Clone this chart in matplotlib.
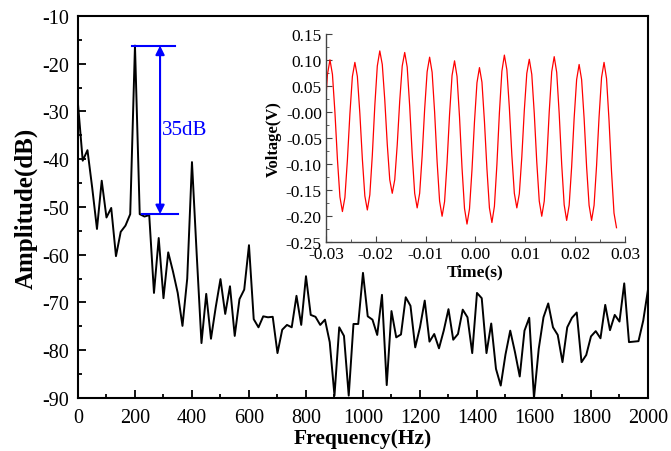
import numpy as np
import matplotlib
matplotlib.use("Agg")
import matplotlib.pyplot as plt

# spectrum, 121 bins from 0 to 2000 Hz
freq_max = 2000.0
amp_db = [
    -28.4, -40.3, -38.1, -46.0, -54.6, -44.5, -52.2, -50.2, -60.3, -55.2, -53.9, -51.5, -16.2,
    -51.5, -52.0, -51.7, -68.0, -56.5, -69.1, -59.5, -63.5, -68.0, -74.9, -65.0, -40.6,
    -60.0, -78.5, -68.2, -77.6, -71.0, -65.1, -72.4, -66.6, -77.0, -69.3, -67.3, -58.0,
    -73.5, -75.2, -72.9, -73.1, -73.0, -80.6, -75.7, -74.7, -75.2, -68.6, -74.7, -64.5,
    -72.6, -73.0, -74.7, -73.6, -78.3, -89.5, -75.2, -77.0, -89.5, -74.5, -74.5, -63.8,
    -72.9, -73.6, -76.8, -68.4, -87.3, -71.8, -77.3, -76.7, -68.9, -70.7, -79.4, -75.2,
    -69.6, -78.2, -76.6, -79.6, -75.9, -71.4, -77.8, -76.6, -71.5, -73.1, -80.6, -68.0,
    -69.1, -80.6, -74.4, -83.9, -87.4, -80.9, -75.9, -80.4, -85.5, -75.9, -73.2, -90.0,
    -79.7, -73.1, -70.2, -75.2, -76.8, -82.5, -75.2, -73.2, -72.1, -82.5, -81.0, -77.1,
    -76.0, -77.5, -70.5, -75.8, -72.6, -74.0, -66.0, -78.3, -78.2, -78.1, -73.8, -67.3,
]
freq = np.linspace(0, freq_max, len(amp_db))

# 35 dB marker
peak_db = -16.2
floor_db = -51.5
marker_freq = 288

# time signal for inset
t_start = -0.0302
t_step = 0.0005
voltage = [
    0.000, 0.072, 0.100,
    0.072, -0.001, -0.091, -0.163, -0.191,
    -0.164, -0.092, -0.004, 0.068, 0.095,
    0.068, -0.003, -0.090, -0.161, -0.188,
    -0.159, -0.083, 0.012, 0.088, 0.117,
    0.091, 0.023, -0.062, -0.130, -0.156,
    -0.130, -0.063, 0.021, 0.088, 0.114,
    0.086, 0.011, -0.081, -0.156, -0.184,
    -0.156, -0.084, 0.005, 0.077, 0.105,
    0.076, 0.000, -0.095, -0.171, -0.200,
    -0.172, -0.097, -0.005, 0.070, 0.098,
    0.068, -0.010, -0.107, -0.185, -0.215,
    -0.186, -0.111, -0.019, 0.056, 0.085,
    0.057, -0.018, -0.109, -0.184, -0.212,
    -0.181, -0.101, -0.002, 0.078, 0.109,
    0.081, 0.008, -0.083, -0.156, -0.184,
    -0.157, -0.086, 0.003, 0.074, 0.101,
    0.072, -0.003, -0.096, -0.171, -0.200,
    -0.171, -0.094, 0.000, 0.077, 0.106,
    0.076, -0.003, -0.100, -0.178, -0.208,
    -0.179, -0.105, -0.012, 0.062, 0.091,
    0.062, -0.012, -0.105, -0.179, -0.208,
    -0.179, -0.103, -0.010, 0.066, 0.095,
    0.064, -0.016, -0.114, -0.194, -0.222,
]
time = t_start + t_step * np.arange(len(voltage))

plt.rcParams['font.family'] = ['Liberation Serif', 'DejaVu Serif']
plt.rcParams['axes.unicode_minus'] = False

fig = plt.figure(figsize=(6.71, 4.52), dpi=100)
ax = fig.add_axes([0.1162, 0.1173, 0.8495, 0.8451])
ax.plot(freq, amp_db, color='black', lw=1.4)
ax.set_xlim(0, 2000)
ax.set_ylim(-90, -10)
ax.set_xticks(np.arange(0, 2001, 200))
ax.set_xticks(np.arange(100, 2000, 200), minor=True)
ax.set_yticks(np.arange(-90, -9, 10))
ax.set_yticks(np.arange(-85, -10, 10), minor=True)
ax.tick_params(which='both', direction='in', top=False, right=False, labelsize=14.5, width=1.3)
ax.tick_params(axis='x', pad=7)
ax.tick_params(axis='y', pad=6.5)
ax.tick_params(which='major', length=6)
ax.tick_params(which='minor', length=3)
for s in ax.spines.values():
    s.set_linewidth(1.5)
ax.set_xlabel('Frequency(Hz)', fontsize=15.5, fontweight='bold', labelpad=1)
ax.set_ylabel('Amplitude(dB)', fontsize=18, fontweight='bold', labelpad=3)

# annotation
ax.plot([188, 340], [peak_db, peak_db], color='blue', lw=1.5)
ax.plot([223, 352], [floor_db, floor_db], color='blue', lw=1.5)
ax.annotate('', xy=(marker_freq, peak_db), xytext=(marker_freq, floor_db),
            arrowprops=dict(arrowstyle='<|-|>', color='blue', lw=1.5,
                            mutation_scale=13, shrinkA=0, shrinkB=0))
ax.text(marker_freq + 8, -33.7, '35dB', color='blue', fontsize=15, va='center', ha='left')

# inset
ins = fig.add_axes([0.4858, 0.4617, 0.4456, 0.4615])
ins.plot(time, voltage, color='red', lw=0.9)
ins.set_xlim(-0.03, 0.03)
ins.set_ylim(-0.25, 0.15)
ins.set_xticks(np.arange(-0.03, 0.031, 0.01))
ins.set_xticks(np.arange(-0.025, 0.03, 0.01), minor=True)
ins.set_yticks(np.arange(-0.25, 0.151, 0.05))
ins.set_yticks(np.arange(-0.225, 0.15, 0.05), minor=True)
ins.set_xticklabels(['%.2f' % v for v in np.arange(-0.03, 0.031, 0.01)])
ins.set_yticklabels(['%.2f' % v for v in np.arange(-0.25, 0.151, 0.05)])
ins.spines['top'].set_visible(False)
ins.spines['right'].set_visible(False)
for s in ['left', 'bottom']:
    ins.spines[s].set_color('#444444')
    ins.spines[s].set_linewidth(1.0)
ins.tick_params(which='both', direction='in', labelsize=12.5, color='#444444')
ins.tick_params(axis='x', pad=2.5)
ins.tick_params(axis='y', pad=3)
ins.tick_params(which='major', length=4)
ins.tick_params(which='minor', length=2)
ins.patch.set_alpha(0)
ins.set_xlabel('Time(s)', fontsize=12.5, fontweight='bold', labelpad=1)
ins.set_ylabel('Voltage(V)', fontsize=12, fontweight='bold', labelpad=3)

fig.savefig('out.png', dpi=100)
